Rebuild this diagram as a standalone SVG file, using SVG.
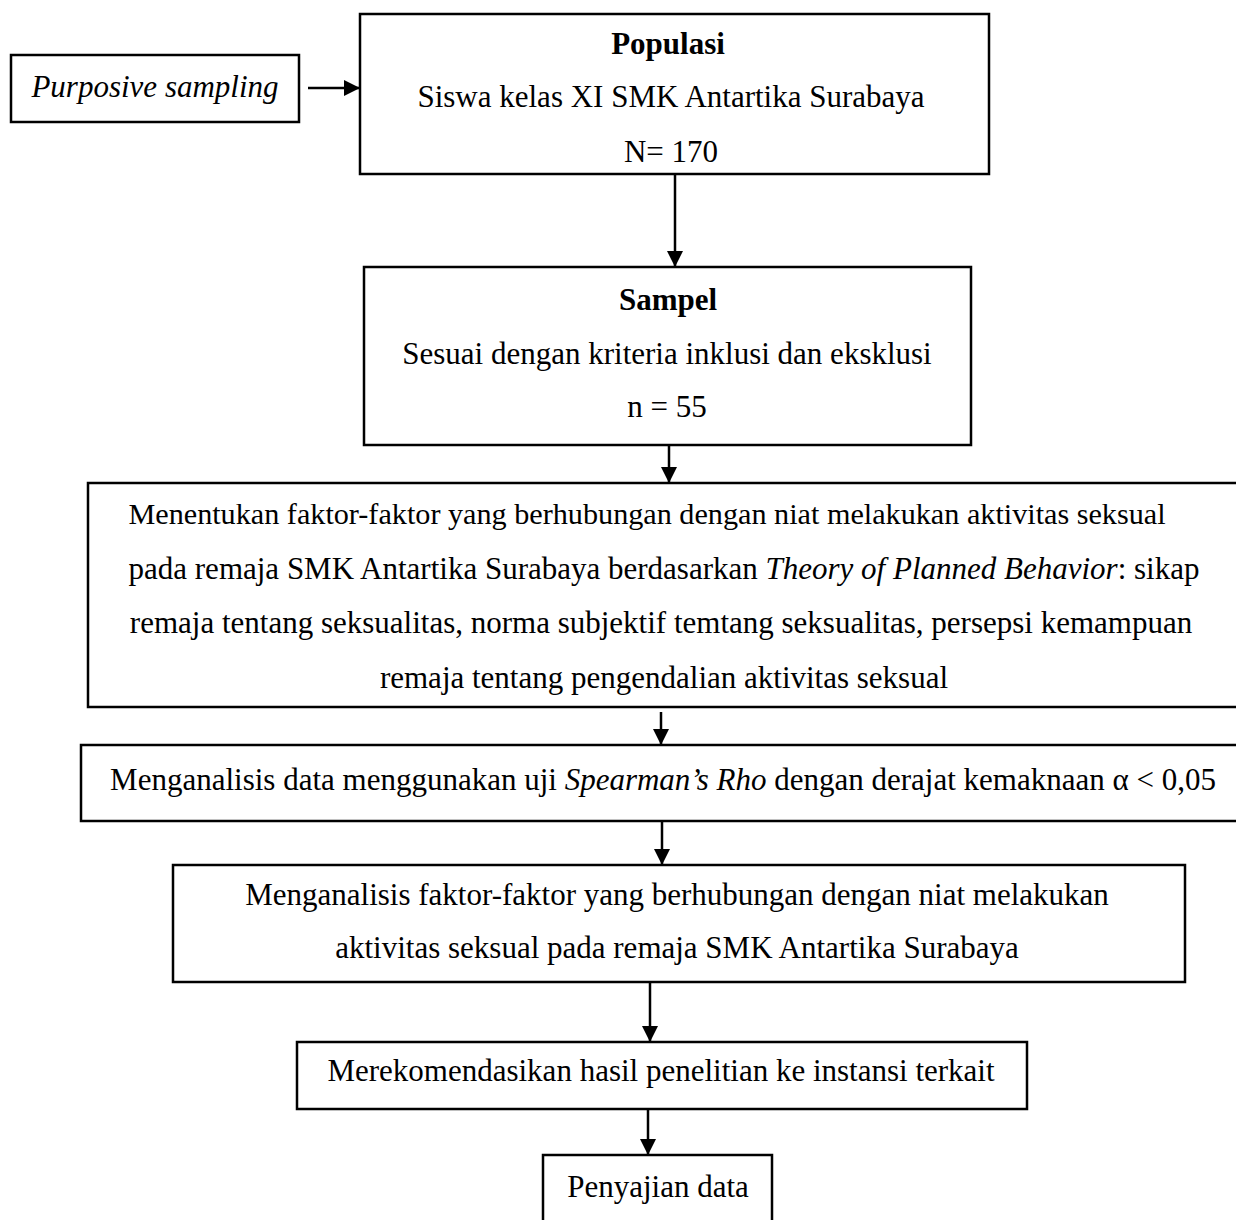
<svg xmlns="http://www.w3.org/2000/svg" width="1236" height="1220" viewBox="0 0 1236 1220">
<style>
.box{fill:#fff;stroke:#000;stroke-width:2.5}
text{font-family:"Liberation Serif","Times New Roman",serif;font-size:31px;fill:#000;text-anchor:middle}
.b{font-weight:bold}
.i{font-style:italic}
.c{stroke:#000;stroke-width:2.5;fill:none}
</style>
<defs>
<marker id="ah" viewBox="0 0 10 10" refX="10" refY="5" markerWidth="19" markerHeight="16" markerUnits="userSpaceOnUse" orient="auto">
<path d="M0,0 L10,5 L0,10 Z" fill="#000"/>
</marker>
</defs>
<rect width="1236" height="1220" fill="#fff"/>
<g id="purposive">
<rect class="box" x="11" y="55" width="288" height="67"/>
<text class="i" x="155" y="97">Purposive sampling</text>
</g>
<g id="populasi">
<rect class="box" x="360" y="14" width="629" height="160"/>
<text class="b" x="668" y="54">Populasi</text>
<text x="671" y="107">Siswa kelas XI SMK Antartika Surabaya</text>
<text x="671" y="162">N= 170</text>
</g>
<g id="sampel">
<rect class="box" x="364" y="267" width="607" height="178"/>
<text class="b" x="668" y="310">Sampel</text>
<text x="667" y="364">Sesuai dengan kriteria inklusi dan eksklusi</text>
<text x="667" y="417">n = 55</text>
</g>
<g id="menentukan">
<rect class="box" x="88" y="483" width="1160" height="224"/>
<text x="647" y="524" style="font-size:30.2px">Menentukan faktor-faktor yang berhubungan dengan niat melakukan aktivitas seksual</text>
<text x="664" y="579">pada remaja SMK Antartika Surabaya berdasarkan <tspan class="i">Theory of Planned Behavior</tspan>: sikap</text>
<text x="661" y="633">remaja tentang seksualitas, norma subjektif temtang seksualitas, persepsi kemampuan</text>
<text x="664" y="688">remaja tentang pengendalian aktivitas seksual</text>
</g>
<g id="spearman">
<rect class="box" x="81" y="745" width="1167" height="76"/>
<text x="663" y="790">Menganalisis data menggunakan uji <tspan class="i">Spearman’s Rho</tspan> dengan derajat kemaknaan α &lt; 0,05</text>
</g>
<g id="analisis">
<rect class="box" x="173" y="865" width="1012" height="117"/>
<text x="677" y="905">Menganalisis faktor-faktor yang berhubungan dengan niat melakukan</text>
<text x="677" y="958">aktivitas seksual pada remaja SMK Antartika Surabaya</text>
</g>
<g id="rekomendasi">
<rect class="box" x="297" y="1042" width="730" height="67"/>
<text x="661" y="1081">Merekomendasikan hasil penelitian ke instansi terkait</text>
</g>
<g id="penyajian">
<rect class="box" x="543" y="1155" width="229" height="80"/>
<text x="658" y="1197">Penyajian data</text>
</g>
<g id="connectors">
<line class="c" x1="308" y1="88" x2="360" y2="88" marker-end="url(#ah)"/>
<line class="c" x1="675" y1="174" x2="675" y2="267" marker-end="url(#ah)"/>
<line class="c" x1="669" y1="445" x2="669" y2="483" marker-end="url(#ah)"/>
<line class="c" x1="661" y1="712" x2="661" y2="745" marker-end="url(#ah)"/>
<line class="c" x1="662" y1="821" x2="662" y2="865" marker-end="url(#ah)"/>
<line class="c" x1="650" y1="982" x2="650" y2="1042" marker-end="url(#ah)"/>
<line class="c" x1="648" y1="1109" x2="648" y2="1155" marker-end="url(#ah)"/>
</g>
</svg>
